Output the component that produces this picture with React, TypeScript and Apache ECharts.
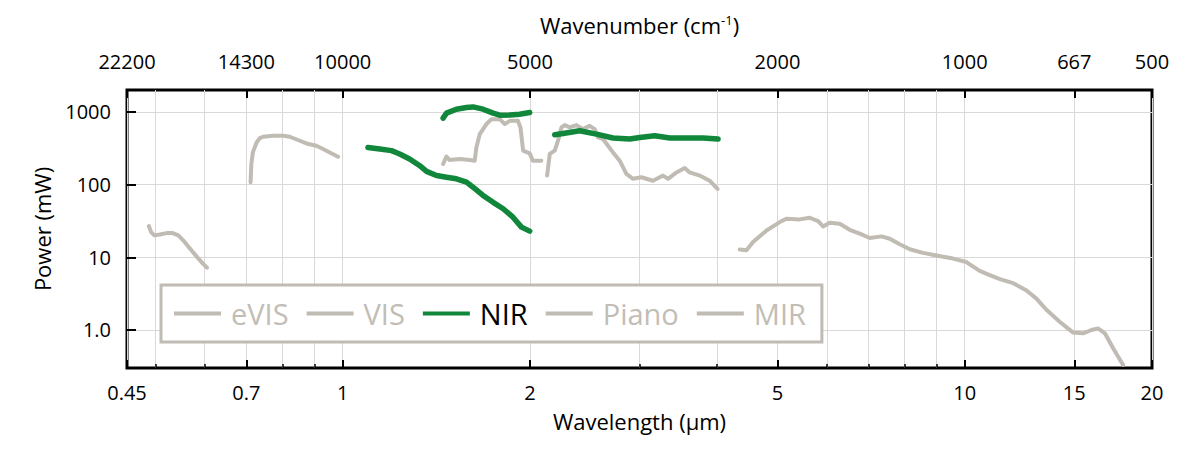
import React, { useEffect, useRef } from "react";
import * as echarts from "echarts";

// ---------- data (wavelength in µm, power in mW) ----------
const eVisWl = [0.488, 0.492, 0.498, 0.508, 0.521, 0.533, 0.544, 0.554, 0.568, 0.582, 0.596, 0.605];
const eVisP = [26.8, 22.2, 20.0, 20.6, 21.5, 21.5, 20.0, 17.1, 13.2, 10.3, 8.2, 7.2];

const visWl = [0.711, 0.713, 0.717, 0.727, 0.736, 0.745, 0.773, 0.802, 0.822, 0.853, 0.874, 0.907, 0.93, 0.953, 0.983];
const visP = [108, 192, 277, 379, 437, 455, 469, 469, 455, 401, 368, 342, 308, 277, 242];

const nirLowWl = [1.098, 1.147, 1.198, 1.235, 1.281, 1.33, 1.364, 1.415, 1.468, 1.523, 1.581, 1.62, 1.681, 1.745, 1.811, 1.878, 1.938, 1.998];
const nirLowP = [324, 308, 293, 264, 225, 182, 152, 133, 126, 120, 108, 92, 71, 57, 46.5, 35.6, 26, 22.9];

const nirHighWl = [1.45, 1.468, 1.523, 1.581, 1.62, 1.681, 1.745, 1.788, 1.856, 1.925, 1.998];
const nirHighP = [820, 960, 1089, 1146, 1171, 1089, 960, 901, 909, 930, 978];

const nirExtWl = [2.192, 2.261, 2.404, 2.558, 2.72, 2.894, 3.003, 3.174, 3.357, 3.569, 3.796, 4.013];
const nirExtP = [484, 505, 550, 495, 437, 423, 445, 469, 437, 437, 437, 423];

const pianoAWl = [1.45, 1.468, 1.486, 1.542, 1.6, 1.63, 1.64, 1.661, 1.702, 1.735, 1.788, 1.822, 1.856, 1.913, 1.931, 1.95, 1.998, 2.022, 2.086];
const pianoAP = [192, 242, 218, 225, 218, 213, 324, 495, 680, 795, 795, 680, 753, 753, 610, 293, 269, 213, 213];

const pianoBWl = [2.131, 2.152, 2.192, 2.219, 2.247, 2.275, 2.317, 2.375, 2.434, 2.495, 2.542, 2.573, 2.621, 2.67, 2.72, 2.788, 2.858, 2.929, 3.021, 3.154, 3.273, 3.334, 3.44, 3.547, 3.613, 3.75, 3.89, 4.004];
const pianoBP = [133, 264, 293, 401, 610, 658, 610, 658, 579, 643, 579, 445, 423, 342, 277, 213, 140, 120, 126, 113, 133, 120, 147, 169, 147, 133, 113, 87];

const mirWl = [4.348, 4.457, 4.568, 4.8, 5.042, 5.168, 5.429, 5.634, 5.811, 5.919, 6.067, 6.295, 6.533, 6.78, 7.036, 7.347, 7.576, 7.862, 8.159, 8.57, 9.005, 9.576, 10.06, 10.57, 10.97, 11.39, 11.96, 12.57, 13.04, 13.53, 14.21, 14.94, 15.5, 15.98, 16.38, 16.8, 17.32, 17.97];
const mirP = [12.75, 12.5, 16.2, 23.4, 30.5, 33.9, 33.2, 35.0, 31.4, 26.6, 29.9, 29.0, 23.9, 21.1, 18.4, 19.4, 18.0, 15.1, 12.9, 11.5, 10.6, 9.6, 8.6, 6.5, 5.7, 5.0, 4.4, 3.5, 2.7, 1.9, 1.3, 0.92, 0.9, 1.0, 1.05, 0.9, 0.56, 0.33];

const seriesNames = ["eVIS", "VIS", "NIR", "Piano", "MIR"];

const xMajorValues = [0.45, 0.7, 1, 2, 5, 10, 15, 20];
const xMajorLabels = ["0.45", "0.7", "1", "2", "5", "10", "15", "20"];
const wavenumberLabels = ["22200", "14300", "10000", "5000", "2000", "1000", "667", "500"];
const xMinorValues = [0.5, 0.6, 0.8, 0.9, 3, 4, 6, 7, 8, 9];

const yValues = [1, 10, 100, 1000];
const yLabels = ["1.0", "10", "100", "1000"];

// ---------- helpers ----------
const GAP: any = ["-", "-"];
const pairs = (wl: number[], p: number[]) => wl.map((w, i) => [w, p[i]]);
const nearestLabel = (v: number, values: number[], labels: string[]) => {
  let best = 0;
  let bd = Infinity;
  values.forEach((tv, i) => {
    const d = Math.abs(Math.log(v) - Math.log(tv));
    if (d < bd) {
      bd = d;
      best = i;
    }
  });
  return labels[best];
};

const GREY = "#c0bbb3";
const GREY_TEXT = "#c2bdb6";
const GREEN = "#10873a";
const GRIDC = "#d9d9d9";
const FONT = "'Open Sans', 'Noto Sans', sans-serif";

export default function App() {
  const ref = useRef<HTMLDivElement>(null);

  useEffect(() => {
    if (!ref.current) return;
    const chart = echarts.init(ref.current, undefined, { renderer: "svg" });

    const nirData = [...pairs(nirLowWl, nirLowP), GAP, ...pairs(nirHighWl, nirHighP), GAP, ...pairs(nirExtWl, nirExtP)];
    const pianoData = [...pairs(pianoAWl, pianoAP), GAP, ...pairs(pianoBWl, pianoBP)];

    const lineSeries = (name: string, data: any[], color: string, width: number) => ({
      name,
      type: "line",
      data,
      color,
      symbol: "none",
      showSymbol: false,
      connectNulls: false,
      xAxisIndex: 0,
      yAxisIndex: 0,
      lineStyle: { color, width, cap: "round", join: "round" },
      z: name === "NIR" ? 4 : 3,
    });

    const xRange = { type: "log", logBase: 10, min: 0.45, max: 20 };

    const option: any = {
      animation: false,
      textStyle: { fontFamily: FONT },
      grid: {
        left: 127,
        right: 48,
        top: 90,
        bottom: 82,
        show: true,
        borderColor: "#000",
        borderWidth: 3,
        backgroundColor: "transparent",
        outerBoundsMode: "none",
        containLabel: false,
      },
      legend: {
        left: 161,
        top: 285,
        orient: "horizontal",
        icon: "rect",
        itemWidth: 47,
        itemHeight: 4,
        itemGap: 18,
        selectedMode: false,
        padding: [14, 16, 14, 13],
        borderColor: GREY,
        borderWidth: 3,
        borderRadius: 0,
        backgroundColor: "#fff",
        textStyle: { fontSize: 29, color: GREY_TEXT, fontFamily: FONT, padding: [0, 0, 0, 5] },
        data: seriesNames.map((n) => ({
          name: n,
          textStyle: { color: n === "NIR" ? "#000" : GREY_TEXT },
        })),
      },
      xAxis: [
        {
          ...xRange,
          position: "bottom",
          name: "Wavelength (µm)",
          nameLocation: "middle",
          nameGap: 42,
          nameTextStyle: { fontSize: 22, color: "#000", fontFamily: FONT },
          axisLine: { show: false },
          axisTick: { show: true, inside: true, length: 8, lineStyle: { color: "#000", width: 2 }, customValues: xMajorValues },
          axisLabel: {
            customValues: xMajorValues,
            formatter: (v: number) => nearestLabel(v, xMajorValues, xMajorLabels),
            fontSize: 20,
            color: "#000",
            margin: 14,
            fontFamily: FONT,
          },
          splitLine: { show: true, lineStyle: { color: GRIDC, width: 1 } },
        },
        {
          ...xRange,
          position: "bottom",
          axisLine: { show: false },
          axisLabel: { show: false },
          axisTick: { show: true, inside: true, length: 4, lineStyle: { color: "#000", width: 1.5 }, customValues: xMinorValues },
          splitLine: { show: true, lineStyle: { color: GRIDC, width: 1 } },
        },
        {
          ...xRange,
          position: "top",
          name: "Wavenumber (cm{sup|-1})",
          nameLocation: "middle",
          nameGap: 54,
          nameTextStyle: {
            fontSize: 22,
            color: "#000",
            fontFamily: FONT,
            rich: { sup: { fontSize: 13, color: "#000", fontFamily: FONT, verticalAlign: "top", padding: [0, 0, 10, 0] } },
          },
          axisLine: { show: false },
          axisTick: { show: true, inside: true, length: 8, lineStyle: { color: "#000", width: 2 }, customValues: xMajorValues },
          axisLabel: {
            customValues: xMajorValues,
            formatter: (v: number) => nearestLabel(v, xMajorValues, wavenumberLabels),
            fontSize: 20,
            color: "#000",
            margin: 19,
            fontFamily: FONT,
          },
          splitLine: { show: false },
        },
      ],
      yAxis: [
        {
          type: "log",
          logBase: 10,
          min: 0.3,
          max: 2000,
          name: "Power (mW)",
          nameLocation: "middle",
          nameGap: 74,
          nameTextStyle: { fontSize: 22, color: "#000", fontFamily: FONT },
          axisLine: { show: false },
          axisTick: { show: true, inside: true, length: 9, lineStyle: { color: "#000", width: 2 }, customValues: yValues },
          axisLabel: {
            customValues: yValues,
            formatter: (v: number) => nearestLabel(v, yValues, yLabels),
            fontSize: 20,
            color: "#000",
            margin: 16,
            fontFamily: FONT,
          },
          splitLine: { show: true, lineStyle: { color: GRIDC, width: 1 } },
        },
      ],
      series: [
        lineSeries("eVIS", pairs(eVisWl, eVisP), GREY, 4),
        lineSeries("VIS", pairs(visWl, visP), GREY, 4),
        lineSeries("NIR", nirData, GREEN, 5.5),
        lineSeries("Piano", pianoData, GREY, 4),
        lineSeries("MIR", pairs(mirWl, mirP), GREY, 4),
      ],
    };

    chart.setOption(option);
    return () => chart.dispose();
  }, []);

  return (
    <div
      ref={ref}
      style={{ position: "fixed", left: 0, top: 0, width: 1200, height: 450, background: "#fff" }}
    />
  );
}
